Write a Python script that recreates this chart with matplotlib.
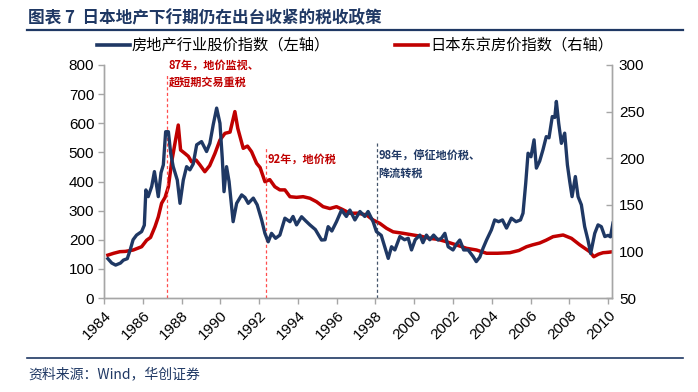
import matplotlib
matplotlib.use("Agg")
import matplotlib.pyplot as plt
from matplotlib.lines import Line2D

plt.rcParams['font.family'] = ['Liberation Sans', 'Noto Sans CJK SC', 'DejaVu Sans']

NAVY = '#1F3864'
RED = '#C00000'
GRAY = '#A6A6A6'

# ---------------- data ----------------
stock_years = [1984.2, 1984.4, 1984.6, 1984.85, 1985.0, 1985.2, 1985.35, 1985.5, 1985.68, 1985.94,
               1986.08, 1986.16, 1986.28, 1986.46, 1986.6, 1986.8, 1986.94, 1987.06, 1987.18, 1987.32,
               1987.44, 1987.57, 1987.78, 1987.92, 1988.09, 1988.26, 1988.43, 1988.6, 1988.78, 1989.03,
               1989.29, 1989.46, 1989.63, 1989.81, 1989.98, 1990.1, 1990.19, 1990.32, 1990.45, 1990.66,
               1990.84, 1991.1, 1991.27, 1991.44, 1991.7, 1991.9, 1992.13, 1992.3, 1992.47, 1992.64,
               1992.85, 1993.07, 1993.33, 1993.59, 1993.75, 1993.93, 1994.19, 1994.4, 1994.62, 1994.9,
               1995.22, 1995.4, 1995.56, 1995.75, 1995.99, 1996.25, 1996.5, 1996.68, 1996.94, 1997.2,
               1997.45, 1997.62, 1997.88, 1998.05, 1998.3, 1998.48, 1998.66, 1998.83, 1999.0, 1999.26,
               1999.5, 1999.69, 1999.86, 2000.05, 2000.29, 2000.45, 2000.63, 2000.8, 2001.0, 2001.23,
               2001.4, 2001.58, 2001.75, 2002.0, 2002.18, 2002.35, 2002.55, 2002.78, 2003.04, 2003.2,
               2003.38, 2003.55, 2003.73, 2003.98, 2004.15, 2004.35, 2004.55, 2004.76, 2005.01, 2005.25,
               2005.48, 2005.61, 2005.75, 2005.87, 2006.02, 2006.18, 2006.3, 2006.47, 2006.64, 2006.81,
               2006.95, 2007.12, 2007.25, 2007.33, 2007.45, 2007.59, 2007.76, 2007.9, 2008.02, 2008.14,
               2008.31, 2008.45, 2008.62, 2008.79, 2008.96, 2009.1, 2009.31, 2009.48, 2009.65, 2009.83,
               2010.0, 2010.12, 2010.25]
stock_index = [135, 120, 113, 120, 130, 135, 165, 200, 216, 228,
               250, 371, 348, 383, 434, 348, 430, 457, 571, 571,
               497, 451, 405, 325, 405, 451, 440, 460, 526, 537,
               503, 531, 594, 652, 600, 480, 365, 451, 400, 262,
               325, 354, 345, 325, 343, 320, 268, 222, 193, 222,
               205, 216, 274, 262, 280, 251, 279, 265, 251, 235,
               199, 200, 245, 230, 262, 302, 280, 302, 268, 297,
               280, 297, 262, 228, 215, 176, 136, 176, 165, 211,
               200, 205, 165, 200, 216, 190, 216, 200, 216, 199,
               205, 222, 176, 165, 185, 199, 165, 165, 142, 125,
               140, 171, 199, 234, 268, 262, 268, 240, 274, 262,
               268, 291, 394, 497, 485, 543, 446, 470, 509, 554,
               550, 623, 620, 675, 600, 531, 566, 457, 400, 348,
               417, 348, 320, 245, 199, 153, 222, 251, 245, 211,
               215, 210, 257]

house_years = [1984.2, 1984.5, 1984.82, 1985.1, 1985.51, 1985.94, 1986.2, 1986.4, 1986.63, 1986.8,
               1986.97, 1987.15, 1987.32, 1987.49, 1987.66, 1987.83, 1987.95, 1988.18, 1988.35, 1988.52,
               1988.75, 1988.95, 1989.2, 1989.45, 1989.72, 1989.98, 1990.24, 1990.5, 1990.75, 1990.9,
               1991.18, 1991.4, 1991.61, 1991.87, 1992.05, 1992.3, 1992.55, 1992.81, 1993.07, 1993.33,
               1993.59, 1993.93, 1994.27, 1994.62, 1994.96, 1995.3, 1995.65, 1995.99, 1996.3, 1996.68,
               1997.1, 1997.54, 1997.88, 1998.23, 1998.57, 1998.91, 1999.43, 1999.94, 2000.4, 2000.8,
               2001.2, 2001.66, 2002.18, 2002.7, 2003.21, 2003.73, 2004.3, 2004.93, 2005.4, 2005.79,
               2006.1, 2006.47, 2006.8, 2007.16, 2007.68, 2008.11, 2008.54, 2009.05, 2009.26, 2009.5,
               2009.74, 2010.0, 2010.25]
house_index = [96, 98, 99.7, 100, 101.5, 105, 112, 115, 126.5, 137,
               151.6, 158, 169.4, 196, 216, 235.6, 208.8, 205, 202, 196,
               198, 192.7, 185.5, 192, 205, 219.5, 226.7, 228, 250, 232,
               210.6, 213, 207, 194.5, 190, 174.8, 177, 169.4, 166, 166,
               158.7, 158, 158.7, 157, 153.3, 148, 146, 148, 145, 140.9,
               141, 139, 133.7, 130, 124.8, 121, 119.4, 117.6, 116, 114,
               113, 110.4, 106.9, 103.3, 101.5, 98, 98, 98.6, 101, 105,
               107, 109, 112, 115.8, 117.6, 114, 107, 99.7, 94.3, 97,
               98.6, 99, 99.7]

policy_years = [1987.25, 1992.35, 1998.07]
policy_tops = [773, 515, 533]
policy_label_y = [822, 500, 508]
policy_texts = ["87年，地价监视、\n超短期交易重税", "92年，地价税", "98年，停征地价税、\n降流转税"]
policy_colors = ['#FF4D4D', '#FF4D4D', '#44546A']
policy_text_colors = [RED, RED, NAVY]

left_ticks = [0, 100, 200, 300, 400, 500, 600, 700, 800]
right_ticks = [50, 100, 150, 200, 250, 300]
year_ticks = list(range(1984, 2011, 2))

series_labels = ["房地产行业股价指数（左轴）", "日本东京房价指数（右轴）"]
title_text = "图表 7  日本地产下行期仍在出台收紧的税收政策"
source_text = "资料来源：Wind，华创证券"

# ---------------- figure ----------------
W, H = 698, 392
fig = plt.figure(figsize=(W / 100, H / 100), dpi=100)
L, R, T, B = 104, 612, 65, 298
ax = fig.add_axes([L / W, 1 - B / H, (R - L) / W, (B - T) / H])
ax2 = ax.twinx()

ax.plot(stock_years, stock_index, color=NAVY, lw=2.4, solid_joinstyle='round', zorder=3)
ax2.plot(house_years, house_index, color=RED, lw=2.5, solid_joinstyle='round', zorder=2)
ax.set_zorder(ax2.get_zorder() + 1)
ax.patch.set_visible(False)

ax.set_xlim(1984, 2010.2)
ax.set_ylim(0, 800)
ax2.set_ylim(50, 300)
ax.set_yticks(left_ticks)
ax2.set_yticks(right_ticks)
ax.set_xticks(year_ticks)
ax.set_xticklabels([str(y) for y in year_ticks], rotation=45, ha='right', va='top',
                   rotation_mode='anchor')

for a in (ax, ax2):
    for s in a.spines.values():
        s.set_color(GRAY)
        s.set_linewidth(1.0)
    a.spines['top'].set_visible(False)
    a.tick_params(colors=GRAY, labelcolor='black', labelsize=11, length=4, width=1)
ax.tick_params(axis='y', direction='out', pad=3)
ax.tick_params(axis='x', direction='out', pad=3)
ax2.tick_params(axis='y', direction='in', pad=5)

for yr, top, ly, txt, c, tc in zip(policy_years, policy_tops, policy_label_y, policy_texts,
                                   policy_colors, policy_text_colors):
    ax.plot([yr, yr], [0, top], color=c, lw=0.9, ls=(0, (2.5, 2)), zorder=1)
    ax.text(yr + 0.08, ly, txt, color=tc, fontsize=8, fontweight='bold', va='top', ha='left',
            linespacing=1.4, family=['Noto Sans CJK SC', 'DejaVu Sans'])

# title, legend, footer
fig.text(28 / W, 1 - 18 / H, title_text, color=NAVY, fontsize=12, fontweight='bold',
         va='center', ha='left', family=['Noto Sans CJK SC', 'DejaVu Sans'])
fig.add_artist(Line2D([27 / W, 683 / W], [1 - 30 / H, 1 - 30 / H], color=NAVY, lw=1.6))
fig.add_artist(Line2D([27 / W, 683 / W], [1 - 358 / H, 1 - 358 / H], color=NAVY, lw=1.2))
fig.text(28 / W, 1 - 374 / H, source_text, color=NAVY, fontsize=10, va='center', ha='left',
         family=['Noto Sans CJK SC', 'DejaVu Sans'])

fig.add_artist(Line2D([97 / W, 130 / W], [1 - 45 / H, 1 - 45 / H], color=NAVY, lw=2.6))
fig.text(132 / W, 1 - 45 / H, series_labels[0], fontsize=11, va='center', ha='left',
         family=['Noto Sans CJK SC', 'DejaVu Sans'])
fig.add_artist(Line2D([395 / W, 428 / W], [1 - 45 / H, 1 - 45 / H], color=RED, lw=2.6))
fig.text(430 / W, 1 - 45 / H, series_labels[1], fontsize=11, va='center', ha='left',
         family=['Noto Sans CJK SC', 'DejaVu Sans'])

fig.savefig('out.png', dpi=100)
